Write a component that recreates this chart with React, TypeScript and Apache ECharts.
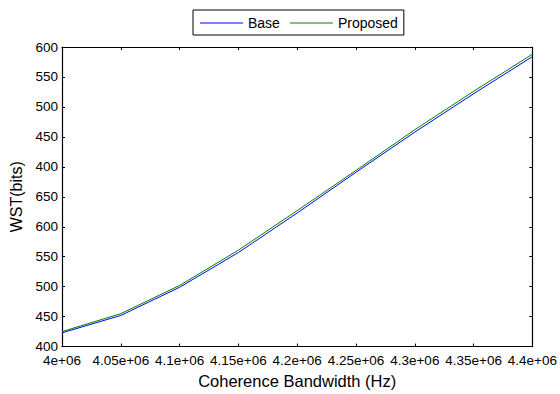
import React, { useEffect, useRef } from "react";
import * as echarts from "echarts";

const xValues = [4.0e6, 4.05e6, 4.1e6, 4.15e6, 4.2e6, 4.25e6, 4.3e6, 4.35e6, 4.4e6];
const baseValues = [423, 452, 499, 557, 623, 691, 758, 822, 884];
const proposedValues = [425, 455, 502, 561, 627, 694, 762, 826, 888];
const xTickLabels = ["4e+06", "4.05e+06", "4.1e+06", "4.15e+06", "4.2e+06", "4.25e+06", "4.3e+06", "4.35e+06", "4.4e+06"];
const yTickLabels = ["400", "450", "500", "550", "600", "650", "400", "450", "500", "550", "600"];

const FONT = "'Liberation Sans', Arial, sans-serif";

export default function App() {
  const ref = useRef<HTMLDivElement>(null);
  useEffect(() => {
    if (!ref.current) return;
    const chart = echarts.init(ref.current, null, { renderer: "svg" });
    const xMin = 4.0e6, xStep = 5e4, yMin = 400, yStep = 50;
    const xFmt = (v: number) => xTickLabels[Math.round((v - xMin) / xStep)] ?? "";
    const yFmt = (v: number) => yTickLabels[Math.round((v - yMin) / yStep)] ?? "";
    const axisLine = { show: true, lineStyle: { color: "#000", width: 1.2 } };
    const tick = { show: true, inside: true, length: 3, lineStyle: { color: "#000" } };
    chart.setOption({
      animation: false,
      backgroundColor: "#fff",
      grid: { left: 62, right: 26, top: 47, bottom: 41, show: false },
      legend: {
        left: 193,
        top: 10,
        itemWidth: 43,
        itemHeight: 1,
        itemGap: 10,
        icon: "rect",
        borderColor: "#000",
        borderWidth: 1,
        borderRadius: 0,
        padding: [6, 6, 5, 7],
        textStyle: { fontFamily: FONT, fontSize: 14, lineHeight: 14, color: "#000" },
        data: ["Base", "Proposed"],
      },
      xAxis: [
        {
          type: "value",
          min: 4.0e6,
          max: 4.4e6,
          interval: 5e4,
          position: "bottom",
          name: "Coherence Bandwidth (Hz)",
          nameLocation: "middle",
          nameGap: 25,
          nameTextStyle: { fontFamily: FONT, fontSize: 16.5, color: "#000" },
          axisLine,
          axisTick: tick,
          splitLine: { show: false },
          axisLabel: { formatter: xFmt, fontFamily: FONT, fontSize: 13.5, lineHeight: 13, color: "#000", margin: 7, showMinLabel: true, showMaxLabel: true, hideOverlap: false },
        },
        {
          type: "value",
          min: 4.0e6,
          max: 4.4e6,
          interval: 5e4,
          position: "top",
          axisLine,
          axisTick: tick,
          splitLine: { show: false },
          axisLabel: { show: false },
        },
      ],
      yAxis: [
        {
          type: "value",
          min: 400,
          max: 900,
          interval: 50,
          position: "left",
          name: "WST(bits)",
          nameLocation: "middle",
          nameGap: 37,
          nameTextStyle: { fontFamily: FONT, fontSize: 16, color: "#000" },
          axisLine,
          axisTick: tick,
          splitLine: { show: false },
          axisLabel: { formatter: yFmt, fontFamily: FONT, fontSize: 13.5, lineHeight: 12, color: "#000", margin: 4 },
        },
        {
          type: "value",
          min: 400,
          max: 900,
          interval: 50,
          position: "right",
          axisLine,
          axisTick: tick,
          splitLine: { show: false },
          axisLabel: { show: false },
        },
      ],
      series: [
        {
          name: "Base",
          type: "line",
          data: xValues.map((x, i) => [x, baseValues[i]]),
          showSymbol: false,
          symbol: "none",
          lineStyle: { color: "#0000ff", width: 1 },
          itemStyle: { color: "#0000ff" },
        },
        {
          name: "Proposed",
          type: "line",
          data: xValues.map((x, i) => [x, proposedValues[i]]),
          showSymbol: false,
          symbol: "none",
          lineStyle: { color: "#008000", width: 1 },
          itemStyle: { color: "#008000" },
        },
      ],
    });
    return () => chart.dispose();
  }, []);
  return <div ref={ref} style={{ position: "fixed", left: 0, top: 0, width: 560, height: 394 }} />;
}
